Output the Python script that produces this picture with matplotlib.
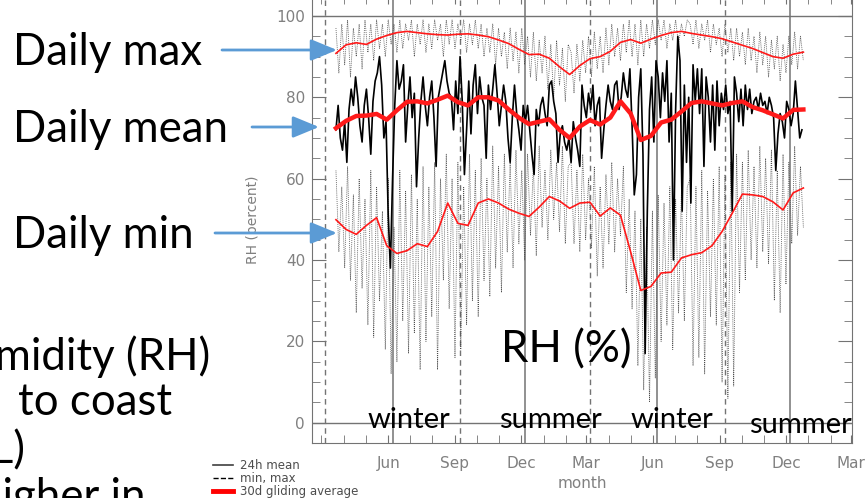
import numpy as np
import matplotlib
matplotlib.use("Agg")
import matplotlib.pyplot as plt
import matplotlib.dates as mdates
from matplotlib.lines import Line2D

# --------------------------------------------------
# Data (RH in percent)
# --------------------------------------------------
mean_start = np.datetime64("2009-04-04")   # 24h mean, every 3 days
minmax_start = np.datetime64("2009-04-04")  # daily min / max, every 4 days
smooth_start = np.datetime64("2009-04-04")  # 30d gliding averages, every 14 days

mean_rh = [
    72, 78, 70, 67, 74, 64, 77, 82, 78, 85, 80, 73, 69, 78, 82, 75, 66, 79, 84, 86,
    90, 83, 70, 74, 51, 38, 60, 78, 89, 82, 84, 88, 69, 78, 85, 75, 81, 58, 70, 79,
    85, 78, 73, 80, 84, 75, 63, 80, 83, 86, 89, 84, 81,
    80, 72, 84, 76, 90, 79, 61, 72, 84, 71, 83, 88, 76, 85, 80, 78, 65, 83, 77, 82,
    88, 81, 73, 78, 83, 79, 70, 64, 75, 83, 76, 72, 67, 78, 74, 78, 72, 66, 61, 77,
    73, 78, 80, 76, 73, 83, 84, 79, 76, 64, 71, 73, 69, 67,
    70, 64, 74, 70, 67, 63, 83, 78, 75, 81, 77, 83, 73, 78, 80, 65, 72, 78, 83, 79,
    77, 83, 84, 77, 80, 86, 82, 80, 87, 73, 56, 61, 80, 87, 66, 17, 52, 77, 85, 69,
    89, 85, 75, 86, 79, 89, 69, 81, 40, 77, 95, 89, 52, 83, 64, 80,
    54, 88, 79, 87, 76, 87, 63, 85, 80, 69, 83, 67, 84, 73, 81, 77, 83, 76, 79, 52,
    85, 81, 74, 82, 73, 83, 77, 82, 76, 79, 80, 77, 81, 78, 79, 76, 80, 78, 75, 62,
    71, 76, 74, 70, 79, 77, 73, 76, 84, 77, 70, 72,
]

max_rh = [
    97, 86, 98, 88, 99, 85, 97, 90, 98, 87, 99, 91, 98, 89, 99, 92, 98, 90, 99, 93,
    98, 91, 99, 92, 98, 94, 99, 90, 98, 93, 99, 91, 98, 92, 99, 94, 98, 90, 99, 93,
    99, 92, 98, 94, 99, 91, 98, 93, 99, 92, 98, 90, 97, 91, 98, 88, 97, 90, 96, 87,
    97, 89, 96, 86, 97, 88, 95, 85, 96, 84, 94, 86, 95, 82, 93, 80, 94, 83, 92, 79, 93,
    91, 81, 93, 84, 94, 86, 95, 85, 96, 87, 95, 86, 97, 88, 98, 90, 97, 89, 98, 91,
    99, 90, 98, 88, 99, 90, 98, 92, 99, 93, 99, 94, 99, 92, 98, 94, 99, 93, 98, 95, 99,
    98, 93, 99, 92, 98, 94, 99, 91, 98, 93, 97, 90, 98, 91, 97, 89, 97, 90, 96, 88,
    97, 89, 95, 86, 96, 88, 95, 85, 94, 87, 95, 84, 93, 86, 95, 88, 96, 87, 95, 89,
]

min_rh = [
    62, 42, 58, 38, 63, 35, 56, 27, 60, 33, 55, 24, 62, 21, 58, 30, 52, 18, 60, 12,
    48, 15, 62, 25, 57, 17, 61, 22, 55, 13, 63, 20, 58, 26, 64, 13, 60, 35, 66, 28,
    60, 16, 64, 18, 58, 24, 66, 30, 62, 26, 65, 35, 60, 31, 68, 38, 63, 32, 66, 42,
    64, 38, 67, 44, 62, 40, 66, 46, 63, 41, 68, 48, 62, 45, 67, 50, 64, 47, 68, 44, 63,
    64, 44, 62, 42, 66, 45, 60, 43, 63, 36, 58, 38, 61, 44, 64, 42, 60, 46, 63, 32,
    55, 28, 52, 14, 50, 8, 48, 5, 52, 11, 56, 20, 54, 24, 58, 18, 55, 27, 57, 25, 58,
    60, 14, 58, 16, 62, 12, 57, 26, 60, 24, 63, 10, 61, 6, 64, 9, 66, 32, 64, 35,
    67, 40, 63, 38, 68, 42, 65, 39, 67, 30, 62, 27, 66, 34, 64, 44, 68, 46, 63, 48,
]

max_30d = [
    90.8, 92.9, 93.4, 93.0, 94.3, 95.2, 95.9, 96.2, 95.9, 95.6, 95.4, 95.3, 95.5, 95.6,
    95.3, 94.9, 94.1, 93.2, 91.8, 90.5, 90.6, 89.6, 87.5, 85.6, 87.8, 89.5, 90.0, 91.3,
    93.5, 94.2, 93.3, 94.3, 95.2, 95.9, 96.2, 95.7, 95.3, 94.9, 94.4, 93.6, 92.8, 92.0,
    91.0, 90.0, 89.6, 90.6, 91.1,
]
mean_30d = [
    72.4, 74.2, 75.4, 75.5, 75.9, 74.5, 76.8, 78.9, 79.0, 78.5, 79.4, 80.4, 78.8, 78.0,
    80.0, 80.0, 79.2, 77.0, 75.0, 73.4, 74.0, 74.6, 72.0, 70.0, 72.8, 74.4, 73.3, 75.0,
    79.0, 76.0, 69.5, 70.5, 73.8, 74.5, 76.5, 78.6, 79.0, 78.5, 78.0, 78.6, 79.0, 77.6,
    76.8, 75.8, 74.8, 76.9, 77.0,
]
min_30d = [
    49.9, 47.5, 46.3, 48.5, 50.4, 43.5, 41.6, 42.3, 44.0, 43.3, 47.0, 54.0, 49.0, 48.5,
    54.0, 55.0, 54.0, 52.5, 51.5, 50.7, 53.0, 55.6, 54.5, 52.7, 54.0, 54.2, 50.8, 52.8,
    51.0, 42.0, 32.5, 33.5, 36.8, 37.0, 40.5, 41.3, 41.8, 43.5, 47.0, 51.5, 56.2, 56.0,
    55.6, 54.3, 52.3, 56.5, 57.7,
]

solstices = np.array(["2009-06-21", "2009-12-21", "2010-06-21", "2010-12-21"], dtype="datetime64[D]")
equinoxes = np.array(["2009-03-20", "2009-09-22", "2010-03-20", "2010-09-22"], dtype="datetime64[D]")
labelled_ticks = np.array(["2009-06-15", "2009-09-15", "2009-12-15", "2010-03-15",
                           "2010-06-15", "2010-09-15", "2010-12-15", "2011-03-15"],
                          dtype="datetime64[D]")

mean_t = mean_start + np.arange(len(mean_rh)) * np.timedelta64(3, "D")
minmax_t = minmax_start + np.arange(len(max_rh)) * np.timedelta64(4, "D")
smooth_t = smooth_start + np.arange(len(max_30d)) * np.timedelta64(14, "D")

# --------------------------------------------------
# Plot
# --------------------------------------------------
W, H = 866, 498
fig = plt.figure(figsize=(W / 100, H / 100), dpi=100)
ax = fig.add_axes([312 / W, 55 / H, 540 / W, 447.4 / H])

grey = "0.45"
for d in solstices:
    ax.axvline(d, color=grey, lw=1.1, zorder=1)
for d in equinoxes:
    ax.axvline(d, color=grey, lw=1.0, ls=(0, (4, 3)), zorder=1)
ax.axhline(0, color=grey, lw=1.0, zorder=1)
ax.axhline(100, color=grey, lw=1.0, zorder=1)

ax.plot(minmax_t, max_rh, color="0.3", lw=0.6, ls=(0, (1, 1.3)), zorder=2)
ax.plot(minmax_t, min_rh, color="0.3", lw=0.6, ls=(0, (1, 1.3)), zorder=2)
ax.plot(mean_t, mean_rh, color="black", lw=1.2, zorder=3)
ax.plot(smooth_t, max_30d, color="#ff1a1a", lw=1.2, zorder=4)
ax.plot(smooth_t, min_30d, color="#ff1a1a", lw=1.2, zorder=4)
ax.plot(smooth_t, mean_30d, color="#ff1a1a", lw=3.2, zorder=4)

ax.set_xlim(np.datetime64("2009-03-02"), np.datetime64("2011-03-16"))
ax.set_ylim(-5, 105)
ax.set_xticks(labelled_ticks)
ax.xaxis.set_minor_locator(mdates.MonthLocator(bymonthday=15))
ax.xaxis.set_major_formatter(mdates.DateFormatter("%b"))
ax.yaxis.set_major_locator(plt.MultipleLocator(20))
ax.yaxis.set_minor_locator(plt.MultipleLocator(5))

ax.tick_params(which="both", direction="in", top=True, right=True,
               color=grey, labelcolor="0.5", labelsize=11)
ax.tick_params(axis="x", which="both", length=6, pad=9)
ax.tick_params(axis="y", which="major", length=10, pad=5)
ax.tick_params(axis="y", which="minor", length=6)
for s in ax.spines.values():
    s.set_color(grey)

ax.set_xlabel("month", color="0.5", fontsize=11, labelpad=4)
ax.set_ylabel("RH (percent)", color="0.5", fontsize=10, labelpad=12)

handles = [
    Line2D([], [], color="0.25", lw=1.2),
    Line2D([], [], color="black", lw=1.0, ls="--"),
    Line2D([], [], color="red", lw=3.5),
]
fig.legend(handles, ["24h mean", "min, max", "30d gliding average"],
           loc="upper left", bbox_to_anchor=(213 / W, 1 - 459 / H),
           frameon=False, fontsize=8.5, handlelength=1.7, handletextpad=0.6,
           labelspacing=0.0, borderpad=0, borderaxespad=0, labelcolor="0.3")

# --------------------------------------------------
# Slide annotations on top of the chart
# --------------------------------------------------
def fpx(x, y):
    return x / W, 1 - y / H

big = dict(family="Lato", fontsize=31.5, color="black", va="baseline")
fig.text(*fpx(13, 65), "Daily max", ha="left", **big)
fig.text(*fpx(13, 142), "Daily mean", ha="left", **big)
fig.text(*fpx(13, 248), "Daily min", ha="left", **big)
fig.text(*fpx(210, 370), "humidity (RH)", ha="right", **big)
fig.text(*fpx(172, 415), "to coast", ha="right", **big)
fig.text(*fpx(25, 463), "(L)", ha="right", **big)
fig.text(*fpx(146, 510), "higher in", ha="right", **big)
fig.text(*fpx(566, 362), "RH (%)", ha="center", **big)

season = dict(family="Lato", fontsize=21, color="black", va="baseline", ha="center")
fig.text(*fpx(409, 428), "winter", **season)
fig.text(*fpx(550, 428), "summer", **season)
fig.text(*fpx(672, 428), "winter", **season)
fig.text(*fpx(800, 433), "summer", **season)

blue = "#5b9bd5"
for x0, x1, y in [(222, 337, 50), (252, 319, 127), (215, 337, 233)]:
    ax.annotate("", xy=(x1, H - y), xytext=(x0, H - y), xycoords="figure pixels",
                textcoords="figure pixels", annotation_clip=False,
                arrowprops=dict(arrowstyle="-|>,head_length=0.8,head_width=0.33",
                                color=blue, lw=2, mutation_scale=20,
                                shrinkA=0, shrinkB=0))

fig.savefig("out.png", dpi=100)
